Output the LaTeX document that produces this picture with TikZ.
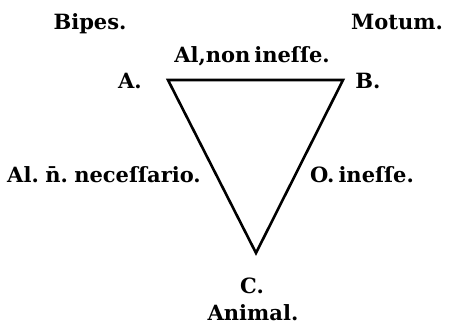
\documentclass[tikz,border=0pt]{standalone}
\usepackage{fontspec}
\setmainfont{DejaVu Serif}[WordSpace=0.55]
\usetikzlibrary{positioning}

\begin{document}
\begin{tikzpicture}[
        x=1pt, y=-1pt,
        every node/.style={font=\bfseries\fontsize{21}{24}\selectfont, inner sep=0pt, anchor=base},
        term/.style={text=black},
        side/.style={line width=2.6pt, line cap=round, line join=miter, draw=black}
    ]
        \useasboundingbox (0,0) rectangle (457,329);

        % corners of the figure
        \coordinate (vA) at (168,80);
        \coordinate (vB) at (343,80);
        \coordinate (vC) at (256,253);

        % terms
        \node[term] (bipes) at (90,30) {Bipes.};
        \node[term] (motum) at (397,30) {Motum.};
        \node[term] (animal) at (253,320) {Animal.};

        % letters
        \node[term] (letA) at (130,88) {A.};
        \node[term] (letB) at (368,88) {B.};
        \node[term] (letC) at (252,293) {C.};

        % propositions
        \node[term] (pAB) at (252,63) {Al,non ineſſe.};
        \node[term] (pAC) at (104,182) {Al. n̄. neceſſario.};
        \node[term] (pBC) at (362,182) {O. ineſſe.};

        \draw[side] (vA) -- (vB) -- (vC) -- cycle;
    \end{tikzpicture}
\end{document}
